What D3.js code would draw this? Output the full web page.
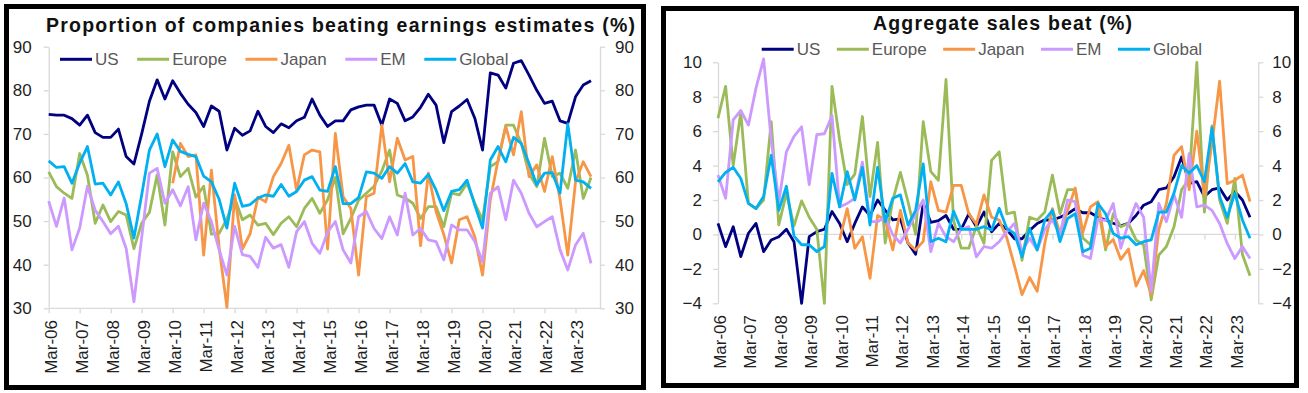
<!DOCTYPE html>
<html>
<head>
<meta charset="utf-8">
<script src="https://cdnjs.cloudflare.com/ajax/libs/d3/7.8.5/d3.min.js"></script>
<style>
body { margin: 0; background: #fff; }
svg { display: block; font-family: "Liberation Sans", Arial, sans-serif; }
</style>
</head>
<body>
<svg width="1308" height="393"></svg>
<script>
// quarterly, Mar-06 .. Sep-23 (71 points), label every March
var tickLabels = ["Mar-06","Mar-07","Mar-08","Mar-09","Mar-10","Mar-11","Mar-12","Mar-13","Mar-14",
  "Mar-15","Mar-16","Mar-17","Mar-18","Mar-19","Mar-20","Mar-21","Mar-22","Mar-23"];
var seriesNames = ["US", "Europe", "Japan", "EM", "Global"];
var seriesColors = ["#000080", "#9bbb59", "#f79646", "#cc99ff", "#00b0f0"];
var preJapan = [null,null,null,null,null,null,null,null,null,null,null,null,null,null,null,null];

// left: proportion of companies beating earnings estimates (%)
var epsUS = [74.5,74.3,74.3,73.5,72,74.3,70.3,69.2,69.2,71.1,
  64.8,63.1,70,77.5,82.4,78,82.2,79.3,76.8,74.9,
  71.7,76.4,75.2,66.3,71.3,69.7,70.7,75.2,71.7,70.3,
  72.3,71.4,73,73.8,78,74.3,71.7,73,73,75.5,
  76.2,76.6,76.6,72,78,77,73,73.9,76.1,79.1,
  76.6,68,75.1,76.4,77.9,73.6,66.3,84,83.5,80.5,
  86.2,86.8,83.5,80,77,77.5,73,72.4,78.5,81.2,82.2];
var epsEurope = [61.3,57.9,56.4,55.2,65.5,60.5,49.5,53.7,49.9,52.2,
  51.4,43.7,49.5,52,60.6,49.1,65.9,60.2,62.1,55.5,
  58,47,47.2,50.5,55.3,50.3,51.4,49.1,49.5,46.9,
  49.5,51,48.7,52.9,55.2,51.8,54.9,
  60,47.1,50.6,54.8,56.4,58,61.5,66.3,56,55.3,
  54.1,50.6,53.3,53.3,48.7,56.4,56,58.7,54.1,50.3,
  62.5,63.6,72,72,67.8,60.9,57.9,69,60.2,61,57.5,66.3,55.2,60];
var epsJapan = preJapan.concat([58.7,67.8,64.8,65.2,42.2,61.7,44,30.2,56,43.6,
  47.1,55.5,54.4,60.2,63.2,67.4,57.1,65.2,66.3,65.9,43.6,
  70.1,55.6,52.9,37.6,55.6,56.4,72,59,69,64,
  64.8,44.4,61,52.2,46.9,40.4,50.3,51,46.4,37.6,
  54.8,64,71.7,65.2,75.1,60.2,62.9,56.8,64.8,55,
  42.2,59,63.6,60.2]);
var epsEM = [54.6,48.8,55.3,43.4,48.4,58,52.5,49.9,47.1,48.8,
  43.7,31.5,46.2,61,62.1,54.1,57.2,53.5,57.9,45.7,
  54.1,49.9,43.4,37.6,48.8,42.3,41.9,39.4,46.3,43.8,
  44.6,39.4,47.6,49.9,44.9,42.6,47.5,
  49.9,43.4,40.4,51,52.2,48.3,46,51,46.8,56.4,
  46.8,48.3,45.7,45.3,41.1,49.1,48,48,45.3,40.7,
  56.4,57.9,50.3,59.4,56.4,51.8,48.7,49.9,51,43.4,
  38.8,44.5,47.2,40.3];
var epsGlobal = [63.8,62.3,62.5,58.7,63.3,67.1,58.5,58.7,56,59,
  54,46.1,56,66.3,70,62.5,68.6,66,65.3,64.8,
  60.3,59,55,48.4,58.7,53.4,53.8,55.3,56,55.7,
  58.4,55.7,56.8,59.4,60.2,57.1,56.8,62.5,54,54,
  55.4,61.3,61,59.8,62.5,61,63.2,59,58.7,60.7,
  57.1,52.4,56.8,57.2,59.4,53.7,48.4,64,67.1,63.6,
  69.2,67.8,63.2,58.3,61,61.1,56.4,72.3,59.4,59,57.5];

// right: aggregate sales beat (%)
var salesUS = [0.64,-0.71,0.45,-1.29,0.07,0.64,-1.0,-0.32,-0.13,0.3,
  -0.42,-4,-0.13,0.16,0.3,1.33,0.64,-0.42,0.64,1.6,
  1.1,2.0,1.4,0.84,0.9,-0.5,-1.15,1.8,0.7,0.8,
  1.1,0.3,0.3,1.2,0.45,
  1.3,0.16,0.64,0.3,-0.25,-0.25,0.23,0.64,0.85,0.84,
  1.0,1.2,1.5,1.26,1.26,1.0,0.84,0.65,0.5,0.65,
  1.1,1.7,1.9,2.6,2.7,3.35,4.5,2.97,3.07,2.2,
  2.6,2.7,2.0,2.5,2.0,1.0];
var salesEurope = [6.75,8.6,4.0,7.1,1.8,1.5,2.0,6.55,0.55,2.4,
  0.5,1.95,1.0,0.3,-4.0,8.6,5.5,2.9,3.5,6.85,
  2.2,5.35,-0.5,2.0,3.6,1.9,0.0,6.55,3.65,3.15,
  9.0,0.8,-0.8,-0.8,0.5,
  -0.52,4.3,4.8,1.2,1.3,-1.5,1.0,0.84,1.3,3.45,
  1.2,2.6,2.6,-0.2,-0.6,1.6,-0.9,1.2,0.45,0.64,
  -0.32,-0.6,-3.8,-1.2,-0.7,0.45,2.6,3.2,10,1.3,
  6.3,2.0,0.64,3.25,-1.16,-2.4];
var salesJapan = preJapan.concat([-0.32,1.5,-0.8,-0.13,-2.55,1.1,0.84,-0.9,1.4,-0.5,
  -0.9,-0.4,3.06,1.4,1.3,2.85,2.85,1.2,0.6,
  2.3,1.0,0.84,-0.2,-1.8,-3.5,-2.5,-3.3,-0.5,1.5,
  0.06,1.4,2.7,0.1,1.6,1.9,-0.7,-0.3,-1.45,-0.85,
  -3.0,-2.1,-3.5,0.3,1.8,4.6,5.1,2.6,6.0,2.3,
  5.3,8.9,2.95,3.15,3.45,1.9]);
var salesEM = [3.45,2.1,6.65,7.2,6.35,8.5,10.2,5.5,1.9,4.8,
  5.7,6.25,2.9,5.8,5.85,6.9,1.6,1.8,2.1,4.2,
  0.74,0.74,1.0,-0.02,-0.5,0.3,1.2,2.0,-1.0,0.64,
  -0.13,-0.42,0.3,0.45,-1.3,
  -0.7,-0.8,-0.42,0.16,0.64,-1.0,-0.22,-0.9,0.3,0.84,
  0.0,2.0,1.9,-1.2,-1.4,0.9,0.8,1.8,-0.8,0.64,
  1.8,1.0,-3.3,1.8,0.74,2.3,1.0,4.7,1.6,1.7,
  1.4,0.64,-0.52,-1.4,-0.7,-1.4];
var salesGlobal = [3.06,3.6,3.9,3.25,1.8,1.5,2.2,4.6,1.4,2.8,
  -0.1,-0.6,-0.6,-1.0,-0.7,3.55,1.6,3.65,2.0,3.9,
  0.55,3.9,0.74,2.1,2.3,0.55,1.4,4.1,-0.42,-0.22,
  -0.42,1.35,0.3,0.3,0.3,
  0.45,0.26,1.52,0.35,0.06,-1.3,0.35,-0.9,0.84,1.4,
  -0.42,0.93,1.2,-1.0,-0.8,1.8,1.2,0.06,-0.22,-0.13,
  -0.6,-0.42,-0.32,1.3,1.3,2.4,4.0,3.55,4.0,3.06,
  6.2,2.2,1.0,2.4,0.84,-0.22];

var epsTicks = [30, 40, 50, 60, 70, 80, 90];
var salesTicks = [-4, -2, 0, 2, 4, 6, 8, 10];

var svg = d3.select("svg");
var axisGrey = "#d9d9d9";
var textCol = "#1f1f1f";

function tr(x, y) {
	return "translate(" + x + "," + y + ")";
}

function styleAxis(sel) {
	sel.selectAll("path, line").attr("stroke", axisGrey).attr("stroke-width", 1.3);
	sel.selectAll("text").attr("font-size", 17).attr("fill", textCol)
	    .attr("font-family", "Liberation Sans, Arial, sans-serif");
}

function drawPanel(p) {
	var g = svg.append("g");
	var x = d3.scaleLinear().domain([0, p.xMax]).range([p.left, p.right]);
	var y = d3.scaleLinear().domain([p.ticks[0], p.ticks[p.ticks.length - 1]]).range([p.bottom, p.top]);

	g.append("g").attr("transform", tr(p.left, 0))
	    .call(d3.axisLeft(y).tickValues(p.ticks).tickSize(5).tickSizeOuter(0).tickPadding(p.pad))
	    .call(styleAxis);
	g.append("g").attr("transform", tr(p.right, 0))
	    .call(d3.axisRight(y).tickValues(p.ticks).tickSize(5).tickSizeOuter(0).tickPadding(p.pad - 2))
	    .call(styleAxis);

	var yearIdx = d3.range(0, 71, 4);
	var xa = g.append("g").attr("transform", tr(0, y(p.xAxisAt)))
	    .call(d3.axisBottom(x).tickValues(yearIdx).tickSize(5).tickSizeOuter(0).tickFormat(""))
	    .call(styleAxis);
	xa.select(".domain").attr("d", "M" + p.left + ",0H" + p.right);

	g.selectAll(".xlab").data(yearIdx).join("text")
	    .attr("class", "xlab")
	    .attr("transform", function (d) { return tr(x(d) + 2, p.labelTop) + " rotate(-90)"; })
	    .attr("text-anchor", "end")
	    .attr("dy", "0.35em")
	    .attr("font-size", 17)
	    .attr("fill", textCol)
	    .text(function (d, i) { return tickLabels[i]; });

	var line = d3.line()
	    .defined(function (d) { return d != null; })
	    .x(function (d, i) { return x(i); })
	    .y(function (d) { return y(d); });

	p.series.forEach(function (s, k) {
		g.append("path")
		    .attr("d", line(s))
		    .attr("fill", "none")
		    .attr("stroke", seriesColors[k])
		    .attr("stroke-width", 2.8)
		    .attr("stroke-linejoin", "round");
	});

	// legend
	var lx = p.legendX;
	seriesNames.forEach(function (name, k) {
		g.append("line")
		    .attr("x1", lx).attr("x2", lx + 32)
		    .attr("y1", p.legendY).attr("y2", p.legendY)
		    .attr("stroke", seriesColors[k]).attr("stroke-width", 3);
		var t = g.append("text")
		    .attr("x", lx + 35).attr("y", p.legendY + 5.5)
		    .attr("font-size", 17).attr("fill", "#595959")
		    .text(name);
		lx += 35 + t.node().getComputedTextLength() + p.legendGap;
	});

	g.append("text")
	    .attr("x", p.titleX).attr("y", p.titleY)
	    .attr("font-size", 19.5).attr("font-weight", "bold").attr("fill", "#111")
	    .attr("textLength", p.titleW).attr("lengthAdjust", "spacing")
	    .text(p.title);

	g.append("rect")
	    .attr("x", p.box[0]).attr("y", p.box[1]).attr("width", p.box[2]).attr("height", p.box[3])
	    .attr("fill", "none").attr("stroke", "#000").attr("stroke-width", 5);
}

drawPanel({
	title: "Proportion of companies beating earnings estimates (%)",
	titleX: 46, titleY: 32, titleW: 589,
	series: [epsUS, epsEurope, epsJapan, epsEM, epsGlobal],
	ticks: epsTicks, xAxisAt: 30,
	left: 48.7, right: 600, top: 46.7, bottom: 308.3, xMax: 71.16,
	pad: 12, labelTop: 320,
	legendX: 60, legendY: 59.3, legendGap: 18.5,
	box: [6.5, 6.5, 637, 381]
});

drawPanel({
	title: "Aggregate sales beat (%)",
	titleX: 873, titleY: 29.5, titleW: 259,
	series: [salesUS, salesEurope, salesJapan, salesEM, salesGlobal],
	ticks: salesTicks, xAxisAt: 0,
	left: 718, right: 1258.3, top: 62.3, bottom: 303.3, xMax: 71.09,
	pad: 11, labelTop: 315,
	legendX: 761.7, legendY: 49.3, legendGap: 16.5,
	box: [663.5, 8.5, 633, 377]
});
</script>
</body>
</html>
